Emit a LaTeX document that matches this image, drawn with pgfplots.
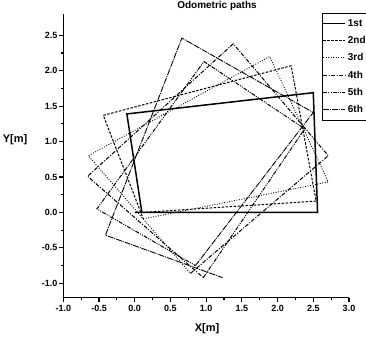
\documentclass[border=0pt]{standalone}
\usepackage{fontspec}
\setmainfont{Liberation Sans}
\usepackage{pgfplots}
\pgfplotsset{compat=1.18}
\begin{document}
\begin{tikzpicture}
\begin{axis}[
  at={(0,0)}, anchor=south west,
  scale only axis, width=285.7pt, height=283.5pt,
  xmin=-1, xmax=3, ymin=-1.2, ymax=2.8,
  axis x line*=bottom, axis y line*=left,
  axis line style={line width=1.4pt, -},
  tick align=outside,
  xtick={-1,-0.5,0,0.5,1,1.5,2,2.5,3},
  ytick={-1,-0.5,0,0.5,1,1.5,2,2.5},
  minor tick num=1,
  major tick length=4pt, minor tick length=2.5pt,
  tick style={line width=1.2pt, black},
  /pgf/number format/assume math mode=true,
  /pgf/number format/.cd, fixed, fixed zerofill, precision=1, /pgfplots/.cd,
  ticklabel style={font=\bfseries\fontsize{9}{10}\selectfont},
  yticklabel style={xshift=1.5pt},
  title={Odometric paths},
  title style={at={(0.538,1.007)}, anchor=center, font=\bfseries\fontsize{10}{11}\selectfont},
  xlabel={X[m]},
  xlabel style={at={(0.503,-0.111)}, anchor=center, font=\bfseries\fontsize{11}{12}\selectfont},
  ylabel={Y[m]},
  ylabel style={at={(-0.169,0.556)}, anchor=center, rotate=-90, font=\bfseries\fontsize{11}{12}\selectfont},
  legend style={at={(0.9055,1.0035)}, anchor=north west, draw=black, line width=0.8pt,
    font=\bfseries\fontsize{10}{11}\selectfont, row sep=4.5pt, inner xsep=0pt, inner ysep=4pt},
  legend cell align=left,
  legend image code/.code={\draw[#1] (0pt,0pt) -- (22pt,0pt);},
]
\addplot[black, line width=1.5pt] coordinates {(0,0) (2.56,0) (2.50,1.69) (-0.11,1.39) (0.10,0.0)};
\addlegendentry{1st}
\addplot[black, line width=1pt, dash pattern=on 2.5pt off 1.5pt] coordinates {(0.10,0.0) (2.54,0.16) (2.19,2.07) (-0.44,1.37) (0.12,-0.09)};
\addlegendentry{2nd}
\addplot[black, line width=0.9pt, dash pattern=on 0.9pt off 1.6pt] coordinates {(0.12,-0.09) (2.71,0.43) (1.89,2.20) (-0.65,0.80) (0.78,-0.86)};
\addlegendentry{3rd}
\addplot[black, line width=1pt, dash pattern=on 4pt off 1.5pt on 1pt off 1.5pt] coordinates {(0.78,-0.86) (2.71,0.80) (1.38,2.38) (-0.66,0.51) (0.96,-0.92)};
\addlegendentry{4th}
\addplot[black, line width=1pt, dash pattern=on 4pt off 1.2pt on 1pt off 1.2pt on 1pt off 1.2pt] coordinates {(0.96,-0.92) (2.38,1.18) (0.97,2.13) (-0.53,0.05) (0.85,-0.75)};
\addlegendentry{5th}
\addplot[black, line width=0.9pt, dash pattern=on 6pt off 1pt on 1pt off 1pt] coordinates {(0.85,-0.75) (2.50,1.41) (0.66,2.46) (-0.41,-0.32) (1.23,-0.92)};
\addlegendentry{6th}
\end{axis}
\pgfresetboundingbox
\useasboundingbox (-63.3pt,-45.5pt) rectangle (302.7pt,297.5pt);
\end{tikzpicture}
\end{document}
